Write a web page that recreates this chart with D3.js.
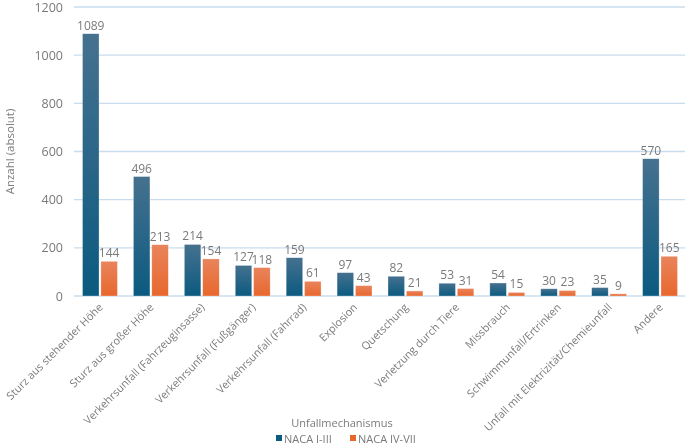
<!DOCTYPE html>
<html>
<head>
<meta charset="utf-8">
<style>
	body { margin: 0; background: #fff; }
	#chart { position: fixed; left: 0; top: 0; width: 685px; height: 445px; }
	text { font-family: "Open Sans", "Noto Sans", sans-serif; fill: #7a7a7a; }
</style>
<script src="https://d3js.org/d3.v7.min.js"></script>
</head>
<body>
<div id="chart"></div>
<script>
	// Data
	var categories = ["Sturz aus stehender Höhe", "Sturz aus großer Höhe", "Verkehrsunfall (Fahrzeuginsasse)",
		"Verkehrsunfall (Fußgänger)", "Verkehrsunfall (Fahrrad)", "Explosion", "Quetschung",
		"Verletzung durch Tiere", "Missbrauch", "Schwimmunfall/Ertrinken",
		"Unfall mit Elektrizität/Chemieunfall", "Andere"];
	var naca13 = [1089, 496, 214, 127, 159, 97, 82, 53, 54, 30, 35, 570];
	var naca47 = [144, 213, 154, 118, 61, 43, 21, 31, 15, 23, 9, 165];
	var seriesNames = ["NACA I-III", "NACA IV-VII"];
	var yTicks = [0, 200, 400, 600, 800, 1000, 1200];

	var width = 685, height = 445;
	var margin = {top: 7, right: 0, bottom: 149, left: 74};
	var innerW = width - margin.left - margin.right,
		innerH = height - margin.top - margin.bottom;

	var svg = d3.select("#chart").append("svg")
		.attr("width", width)
		.attr("height", height);

	// gradients like the Excel bars
	var defs = svg.append("defs");
	function grad(id, top, bottom) {
		var g = defs.append("linearGradient").attr("id", id)
			.attr("x1", 0).attr("y1", 0).attr("x2", 0).attr("y2", 1);
		g.append("stop").attr("offset", "0%").attr("stop-color", top);
		g.append("stop").attr("offset", "100%").attr("stop-color", bottom);
	}
	grad("gBlue", "#46718f", "#0b5a80");
	grad("gOrange", "#e9845c", "#e8672d");

	var g = svg.append("g").attr("transform", "translate(" + margin.left + "," + margin.top + ")");

	var x = d3.scaleBand().domain(categories).range([0, innerW]).paddingInner(0).paddingOuter(0);
	var x1 = d3.scaleBand().domain(seriesNames).range([8.5, x.bandwidth() - 7.5]).paddingInner(0.1);
	var y = d3.scaleLinear().domain([0, 1200]).range([innerH, 0]);

	// gridlines
	g.selectAll(".grid").data(yTicks).enter().append("line")
		.attr("x1", 0).attr("x2", innerW)
		.attr("y1", function(d) { return y(d); })
		.attr("y2", function(d) { return y(d); })
		.attr("stroke", "#c9dcee")
		.attr("stroke-width", 1.3);

	// y axis labels
	var yAxis = g.append("g").call(d3.axisLeft(y).tickValues(yTicks).tickFormat(d3.format("d"))
		.tickSize(0).tickPadding(11));
	yAxis.select(".domain").remove();
	yAxis.selectAll("text").attr("font-size", "12.5px").style("fill", "#7a7a7a")
		.style("font-family", "'Open Sans', sans-serif");

	svg.append("text")
		.attr("transform", "translate(14," + (margin.top + innerH / 2) + ") rotate(-90)")
		.attr("text-anchor", "middle")
		.attr("font-size", "11.5px")
		.text("Anzahl (absolut)");

	var series = [naca13, naca47];
	var fills = ["url(#gBlue)", "url(#gOrange)"];
	series.forEach(function(vals, si) {
		var grp = g.append("g");
		grp.selectAll("rect").data(vals).enter().append("rect")
			.attr("x", function(d, i) { return x(categories[i]) + x1(seriesNames[si]); })
			.attr("y", function(d) { return y(d); })
			.attr("width", x1.bandwidth())
			.attr("height", function(d) { return innerH - y(d); })
			.attr("fill", fills[si])
			.attr("stroke", "#ffffff")
			.attr("stroke-opacity", 0.5)
			.attr("stroke-width", 0.6);
		grp.selectAll("text").data(vals).enter().append("text")
			.attr("x", function(d, i) { return x(categories[i]) + x1(seriesNames[si]) + x1.bandwidth() / 2; })
			.attr("y", function(d) { return y(d) - 4; })
			.attr("text-anchor", "middle")
			.attr("font-size", "12px")
			.text(function(d) { return d; });
	});

	// x axis category labels
	g.selectAll(".xl").data(categories).enter().append("text")
		.attr("transform", function(d) {
			return "translate(" + (x(d) + x.bandwidth() / 2 + 4) + "," + (innerH + 12) + ") rotate(-45)";
		})
		.attr("text-anchor", "end")
		.attr("font-size", "10.8px")
		.text(function(d) { return d; });

	// legend
	svg.append("text").attr("x", 342).attr("y", 427).attr("text-anchor", "middle")
		.attr("font-size", "11px").text("Unfallmechanismus");
	var legX = [276, 350];
	var legColors = ["#0b5a80", "#e8672d"];
	seriesNames.forEach(function(n, i) {
		svg.append("rect").attr("x", legX[i]).attr("y", 435).attr("width", 6).attr("height", 6)
			.attr("fill", legColors[i]);
		svg.append("text").attr("x", legX[i] + 8).attr("y", 442.5)
			.attr("font-size", "11px").text(n);
	});
</script>
</body>
</html>
